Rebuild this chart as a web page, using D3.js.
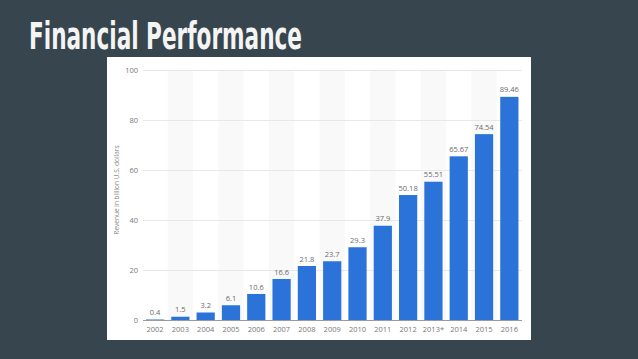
<!DOCTYPE html>
<html><head><meta charset="utf-8">
<script src="https://cdn.jsdelivr.net/npm/d3@7"></script>
<style>html,body{margin:0;padding:0;background:#37464e;}svg{display:block;}</style>
</head><body>
<svg id="c" width="638" height="359"></svg>
<script>
const years = ["2002","2003","2004","2005","2006","2007","2008","2009","2010","2011","2012","2013*","2014","2015","2016"];
const revenue = [0.4,1.5,3.2,6.1,10.6,16.6,21.8,23.7,29.3,37.9,50.18,55.51,65.67,74.54,89.46];
const valueLabels = ["0.4","1.5","3.2","6.1","10.6","16.6","21.8","23.7","29.3","37.9","50.18","55.51","65.67","74.54","89.46"];
const yTicks = [0,20,40,60,80,100];
const title = "Financial Performance";
const yTitle = "Revenue in billion U.S. dollars";

const svg = d3.select("#c");
svg.append("rect").attr("width",638).attr("height",359).attr("fill","#37464e");
svg.append("text").attr("x",29).attr("y",49).text(title)
  .attr("fill","#f4f4f4").attr("font-family","'Liberation Sans Narrow','DejaVu Sans Condensed',sans-serif")
  .attr("font-weight","bold")
  .attr("font-size",37).attr("textLength",273).attr("lengthAdjust","spacingAndGlyphs");

svg.append("rect").attr("x",107).attr("y",57).attr("width",424).attr("height",283).attr("fill","#ffffff");

const x = d3.scaleBand().domain(years).range([142.4,522]).paddingInner(0.28).paddingOuter(0.14);
const y = d3.scaleLinear().domain([0,100]).range([320.5,70.5]);

// alternating column shading
svg.append("g").selectAll("rect").data(years.filter((d,i)=>i%2===1)).join("rect")
  .attr("x",d=>x(d)-x.step()*x.paddingInner()/2).attr("width",x.step())
  .attr("y",y(100)).attr("height",y(0)-y(100)).attr("fill","#f9f9f9");

// gridlines
svg.append("g").selectAll("line").data(yTicks.filter(t=>t>0)).join("line")
  .attr("x1",143).attr("x2",522).attr("y1",d=>y(d)).attr("y2",d=>y(d))
  .attr("stroke","#e8e8e8").attr("stroke-width",1);

// y axis labels
const yAxis = d3.axisLeft(y).tickValues(yTicks).tickSize(0).tickPadding(5);
const gy = svg.append("g").attr("transform","translate(143,0)").call(yAxis);
gy.select(".domain").remove();
gy.selectAll("text").attr("fill","#777").attr("font-size",7.5).attr("font-family","'Open Sans',sans-serif");

// bars
svg.append("g").selectAll("rect").data(revenue).join("rect")
  .attr("x",(d,i)=>x(years[i])).attr("width",x.bandwidth())
  .attr("y",d=>y(d)).attr("height",d=>y(0)-y(d)).attr("fill","#2b73d8");

// value labels
svg.append("g").selectAll("text").data(revenue).join("text")
  .attr("x",(d,i)=>x(years[i])+x.bandwidth()/2).attr("y",d=>y(d)-4.5)
  .attr("text-anchor","middle").attr("fill","#6a6a6a").attr("font-size",7.5)
  .attr("font-family","'Open Sans',sans-serif").text((d,i)=>valueLabels[i]);

// x axis
const xAxis = d3.axisBottom(x).tickSize(0).tickPadding(6);
const gx = svg.append("g").attr("transform","translate(0,320.5)").call(xAxis);
gx.select(".domain").attr("stroke","#9a9a9a").attr("d","M143,0H522");
gx.selectAll("text").attr("fill","#777").attr("font-size",7.5).attr("font-family","'Open Sans',sans-serif");

// y title
svg.append("text").attr("transform","translate(119,190) rotate(-90)")
  .attr("text-anchor","middle").attr("fill","#888").attr("font-size",6.5)
  .attr("font-family","'Open Sans',sans-serif").text(yTitle);
</script>
</body></html>
